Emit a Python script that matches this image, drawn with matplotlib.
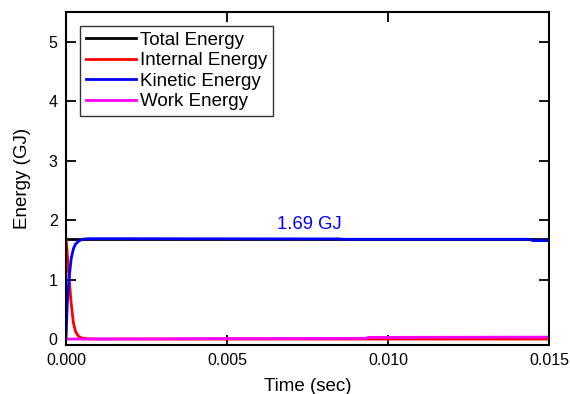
import matplotlib
matplotlib.use("Agg")
import matplotlib.pyplot as plt

plt.rcParams['font.family'] = ['Liberation Sans', 'DejaVu Sans']

t_total = [0.0, 0.015]
total = [1.69, 1.69]

t_int = [0, 0.00003, 0.00006, 0.0001, 0.00016, 0.00023, 0.0003, 0.0004, 0.0005, 0.0007, 0.001, 0.003, 0.006, 0.009, 0.012, 0.015]
internal = [1.69, 1.52, 1.28, 1.0, 0.6, 0.27, 0.12, 0.04, 0.015, 0.004, 0.0, 0.0, 0.0, 0.0, 0.0, 0.0]

t_kin = [0, 0.00002, 0.00004, 0.00007, 0.0001, 0.00016, 0.00023, 0.0003, 0.0004, 0.0005, 0.0006, 0.0008, 0.001, 0.003, 0.006, 0.0085, 0.0086, 0.0144, 0.0145, 0.015]
kinetic = [0.0, 0.3, 0.6, 0.85, 1.05, 1.35, 1.52, 1.6, 1.65, 1.675, 1.685, 1.688, 1.688, 1.687, 1.685, 1.684, 1.678, 1.678, 1.655, 1.655]

t_work = [0, 0.001, 0.003, 0.005, 0.0093, 0.0094, 0.012, 0.015]
work = [0.0, 0.0, 0.003, 0.008, 0.012, 0.028, 0.03, 0.032]

fig = plt.figure(figsize=(5.7, 3.94), dpi=100)
ax = fig.add_axes([0.1158, 0.1244, 0.8472, 0.8451])

ax.plot(t_total, total, color='black', lw=2.0, label='Total Energy')
ax.plot(t_int, internal, color='#ff0000', lw=2.0, label='Internal Energy')
ax.plot(t_kin, kinetic, color='#0000ff', lw=2.0, label='Kinetic Energy')
ax.plot(t_work, work, color='#ff00ff', lw=2.0, label='Work Energy')

ax.text(0.00757, 1.93, '1.69 GJ', color='#0000ff', fontsize=13.3, ha='center', va='center')

ax.set_xlim(0, 0.015)
ax.set_ylim(-0.1, 5.5)
ax.set_xticks([0.0, 0.005, 0.010, 0.015])
ax.set_xticklabels(['0.000', '0.005', '0.010', '0.015'])
ax.set_yticks([0, 1, 2, 3, 4, 5])
ax.tick_params(direction='in', top=True, right=True, length=7, width=1.3, labelsize=11.5, pad=6)
for s in ax.spines.values():
    s.set_linewidth(1.5)

ax.set_xlabel('Time (sec)', fontsize=13.5, labelpad=7)
ax.set_ylabel('Energy (GJ)', fontsize=13.5, labelpad=13)

leg = ax.legend(loc='upper left', bbox_to_anchor=(0.029, 0.958), fontsize=13.5, frameon=True,
                fancybox=False, edgecolor='black', handlelength=2.7, handletextpad=0.2,
                labelspacing=0.18, borderpad=0.3, borderaxespad=0.0)
leg.get_frame().set_linewidth(1.0)

fig.savefig('out.png', dpi=100)
